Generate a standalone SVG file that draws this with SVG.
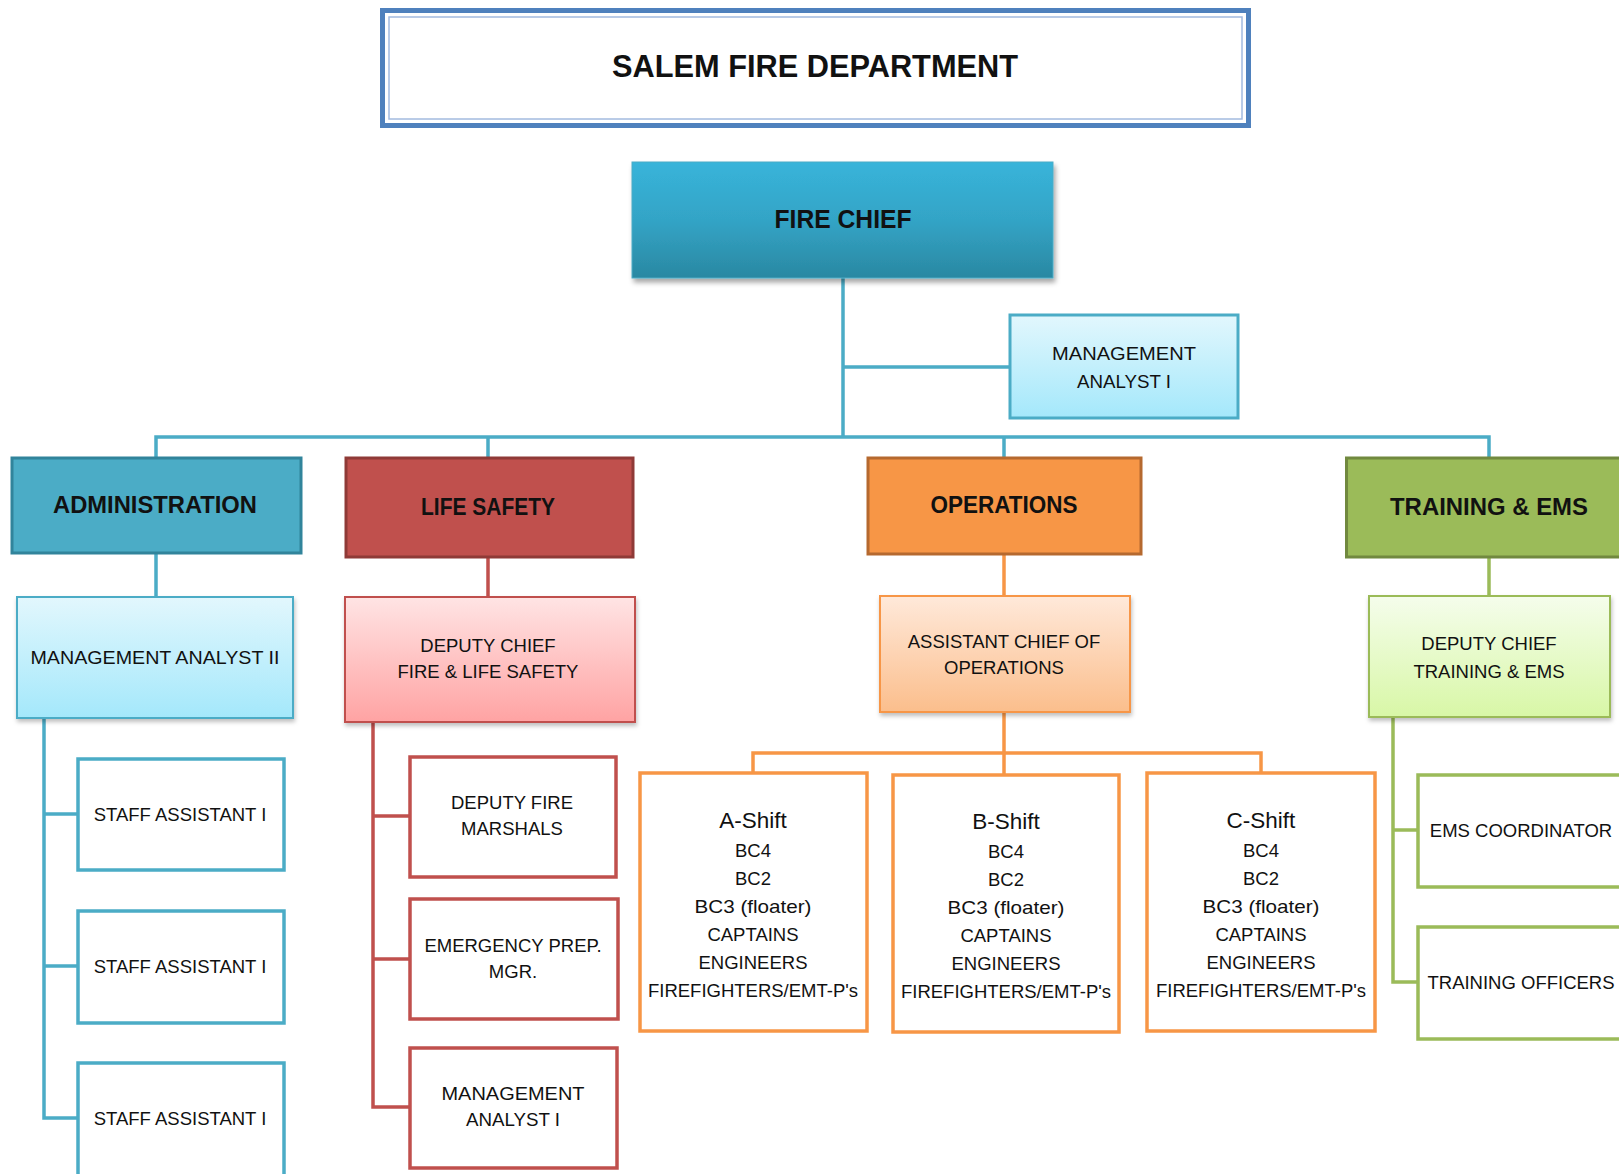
<svg xmlns="http://www.w3.org/2000/svg" width="1619" height="1174" viewBox="0 0 1619 1174">
<defs>
<linearGradient id="gChief" x1="0" y1="0" x2="0" y2="1"><stop offset="0" stop-color="#38B4DA"/><stop offset="0.5" stop-color="#33A4C6"/><stop offset="1" stop-color="#2A88A2"/></linearGradient>
<linearGradient id="gCyan" x1="0" y1="0" x2="0" y2="1"><stop offset="0" stop-color="#E2F7FD"/><stop offset="1" stop-color="#A4E8FB"/></linearGradient>
<linearGradient id="gPink" x1="0" y1="0" x2="0" y2="1"><stop offset="0" stop-color="#FFE4E4"/><stop offset="1" stop-color="#FFA3A3"/></linearGradient>
<linearGradient id="gPeach" x1="0" y1="0" x2="0" y2="1"><stop offset="0" stop-color="#FFE9DA"/><stop offset="1" stop-color="#FBBE8C"/></linearGradient>
<linearGradient id="gGreen" x1="0" y1="0" x2="0" y2="1"><stop offset="0" stop-color="#F5FDEC"/><stop offset="1" stop-color="#D8F7A6"/></linearGradient>
<filter id="sh" x="-10%" y="-10%" width="125%" height="130%"><feDropShadow dx="2" dy="4" stdDeviation="2.5" flood-color="#000" flood-opacity="0.35"/></filter>
<filter id="sh2" x="-10%" y="-10%" width="125%" height="130%"><feDropShadow dx="1" dy="3" stdDeviation="2" flood-color="#000" flood-opacity="0.25"/></filter>
</defs>
<style>
.t{font-family:"Liberation Sans",Arial,sans-serif;font-size:18.5px;fill:#111;text-anchor:middle;dominant-baseline:central}
.h{font-weight:bold;font-size:23px}
.c{fill:none;stroke-width:3.5;stroke-linecap:square;stroke-linejoin:miter}
.blue{stroke:#4BACC6}.red{stroke:#C0504D}.org{stroke:#F79646}.grn{stroke:#9BBB59}
.box{fill:#fff;stroke-width:3.5}
</style>

<g id="connectors">
<path class="c blue" d="M843 278V437M843 367H1010M156 437H1489M156 437V457M488 437V457M1004 437V457M1489 437V457"/>
<path class="c blue" d="M156 554V597M44 719V1118M44 814H77M44 966H77M44 1118H77"/>
<path class="c red" d="M488 558V597M373 723V1107M373 816H410M373 959H410M373 1107H410"/>
<path class="c org" d="M1004 555V596M1004 713V774M753 753H1261M753 753V772M1261 753V772"/>
<path class="c grn" d="M1489 558V596M1393 718V982M1393 830H1418M1393 982H1418"/>
</g>

<g id="title">
<rect x="382.5" y="10.5" width="866" height="115" fill="#fff" stroke="#4F81BD" stroke-width="5"/>
<rect x="389" y="17" width="853" height="102" fill="none" stroke="#A3BBDF" stroke-width="1.5"/>
<text class="t" x="815" y="66" style="font-weight:bold;font-size:31px" textLength="406" lengthAdjust="spacingAndGlyphs">SALEM FIRE DEPARTMENT</text>
</g>

<g id="fire-chief">
<rect x="632" y="162" width="421" height="116" fill="url(#gChief)" stroke="#4BACC6" stroke-width="1" filter="url(#sh)"/>
<text class="t h" x="843" y="219" style="font-size:26px" textLength="137" lengthAdjust="spacingAndGlyphs">FIRE CHIEF</text>
</g>

<g id="mgmt-analyst-top">
<rect x="1010" y="315" width="228" height="103" fill="url(#gCyan)" stroke="#4BACC6" stroke-width="3"/>
<text class="t" x="1124" y="353" textLength="144" lengthAdjust="spacingAndGlyphs">MANAGEMENT</text>
<text class="t" x="1124" y="381" textLength="94" lengthAdjust="spacingAndGlyphs">ANALYST I</text>
</g>

<g id="administration">
<rect x="12" y="458" width="289" height="95" fill="#4BACC6" stroke="#31849B" stroke-width="3"/>
<text class="t h" x="155" y="505" textLength="204" lengthAdjust="spacingAndGlyphs">ADMINISTRATION</text>
</g>
<g id="life-safety">
<rect x="346" y="458" width="287" height="99" fill="#C0504D" stroke="#8F3A37" stroke-width="3"/>
<text class="t h" x="488" y="507" textLength="134" lengthAdjust="spacingAndGlyphs">LIFE SAFETY</text>
</g>
<g id="operations">
<rect x="868" y="458" width="273" height="96" fill="#F79646" stroke="#B5692F" stroke-width="3"/>
<text class="t h" x="1004" y="505" textLength="147" lengthAdjust="spacingAndGlyphs">OPERATIONS</text>
</g>
<g id="training-ems">
<rect x="1346.5" y="458" width="290" height="99" fill="#9BBB59" stroke="#71893F" stroke-width="3"/>
<text class="t h" x="1489" y="507" textLength="198" lengthAdjust="spacingAndGlyphs">TRAINING &amp; EMS</text>
</g>

<g id="mgmt-analyst-2">
<rect x="17" y="597" width="276" height="121" fill="url(#gCyan)" stroke="#4BACC6" stroke-width="2" filter="url(#sh2)"/>
<text class="t" x="155" y="657" textLength="249" lengthAdjust="spacingAndGlyphs">MANAGEMENT ANALYST II</text>
</g>
<g id="deputy-chief-fls">
<rect x="345" y="597" width="290" height="125" fill="url(#gPink)" stroke="#C0504D" stroke-width="2" filter="url(#sh2)"/>
<text class="t" x="488" y="645">DEPUTY CHIEF</text>
<text class="t" x="488" y="671">FIRE &amp; LIFE SAFETY</text>
</g>
<g id="assistant-chief-ops">
<rect x="880" y="596" width="250" height="116" fill="url(#gPeach)" stroke="#F79646" stroke-width="2" filter="url(#sh2)"/>
<text class="t" x="1004" y="641">ASSISTANT CHIEF OF</text>
<text class="t" x="1004" y="667">OPERATIONS</text>
</g>
<g id="deputy-chief-tems">
<rect x="1369" y="596" width="241" height="121" fill="url(#gGreen)" stroke="#9BBB59" stroke-width="2" filter="url(#sh2)"/>
<text class="t" x="1489" y="643">DEPUTY CHIEF</text>
<text class="t" x="1489" y="671">TRAINING &amp; EMS</text>
</g>

<g id="staff-assistant-1">
<rect class="box blue" x="78" y="759" width="206" height="111"/>
<text class="t" x="180" y="814">STAFF ASSISTANT I</text>
</g>
<g id="staff-assistant-2">
<rect class="box blue" x="78" y="911" width="206" height="112"/>
<text class="t" x="180" y="966">STAFF ASSISTANT I</text>
</g>
<g id="staff-assistant-3">
<rect class="box blue" x="78" y="1063" width="206" height="130"/>
<text class="t" x="180" y="1118">STAFF ASSISTANT I</text>
</g>

<g id="deputy-fire-marshals">
<rect class="box red" x="410" y="757" width="206" height="120"/>
<text class="t" x="512" y="802">DEPUTY FIRE</text>
<text class="t" x="512" y="828">MARSHALS</text>
</g>
<g id="emergency-prep">
<rect class="box red" x="410" y="899" width="208" height="120"/>
<text class="t" x="513" y="945">EMERGENCY PREP.</text>
<text class="t" x="513" y="971">MGR.</text>
</g>
<g id="mgmt-analyst-ls">
<rect class="box red" x="410" y="1048" width="207" height="120"/>
<text class="t" x="513" y="1093" textLength="143" lengthAdjust="spacingAndGlyphs">MANAGEMENT</text>
<text class="t" x="513" y="1119" textLength="94" lengthAdjust="spacingAndGlyphs">ANALYST I</text>
</g>

<g id="a-shift">
<rect class="box org" x="640" y="773" width="227" height="258"/>
<text class="t" x="753" y="820" style="font-size:22.5px">A-Shift</text>
<text class="t" x="753" y="850">BC4</text>
<text class="t" x="753" y="878">BC2</text>
<text class="t" x="753" y="906" textLength="117" lengthAdjust="spacingAndGlyphs">BC3 (floater)</text>
<text class="t" x="753" y="934">CAPTAINS</text>
<text class="t" x="753" y="962">ENGINEERS</text>
<text class="t" x="753" y="990">FIREFIGHTERS/EMT-P's</text>
</g>
<g id="b-shift">
<rect class="box org" x="893" y="775" width="226" height="257"/>
<text class="t" x="1006" y="821" style="font-size:22.5px">B-Shift</text>
<text class="t" x="1006" y="851">BC4</text>
<text class="t" x="1006" y="879">BC2</text>
<text class="t" x="1006" y="907" textLength="117" lengthAdjust="spacingAndGlyphs">BC3 (floater)</text>
<text class="t" x="1006" y="935">CAPTAINS</text>
<text class="t" x="1006" y="963">ENGINEERS</text>
<text class="t" x="1006" y="991">FIREFIGHTERS/EMT-P's</text>
</g>
<g id="c-shift">
<rect class="box org" x="1147" y="773" width="228" height="258"/>
<text class="t" x="1261" y="820" style="font-size:22.5px">C-Shift</text>
<text class="t" x="1261" y="850">BC4</text>
<text class="t" x="1261" y="878">BC2</text>
<text class="t" x="1261" y="906" textLength="117" lengthAdjust="spacingAndGlyphs">BC3 (floater)</text>
<text class="t" x="1261" y="934">CAPTAINS</text>
<text class="t" x="1261" y="962">ENGINEERS</text>
<text class="t" x="1261" y="990">FIREFIGHTERS/EMT-P's</text>
</g>

<g id="ems-coordinator">
<rect class="box grn" x="1418" y="775" width="210" height="112"/>
<text class="t" x="1521" y="830">EMS COORDINATOR</text>
</g>
<g id="training-officers">
<rect class="box grn" x="1418" y="927" width="210" height="112"/>
<text class="t" x="1521" y="982">TRAINING OFFICERS</text>
</g>
</svg>
